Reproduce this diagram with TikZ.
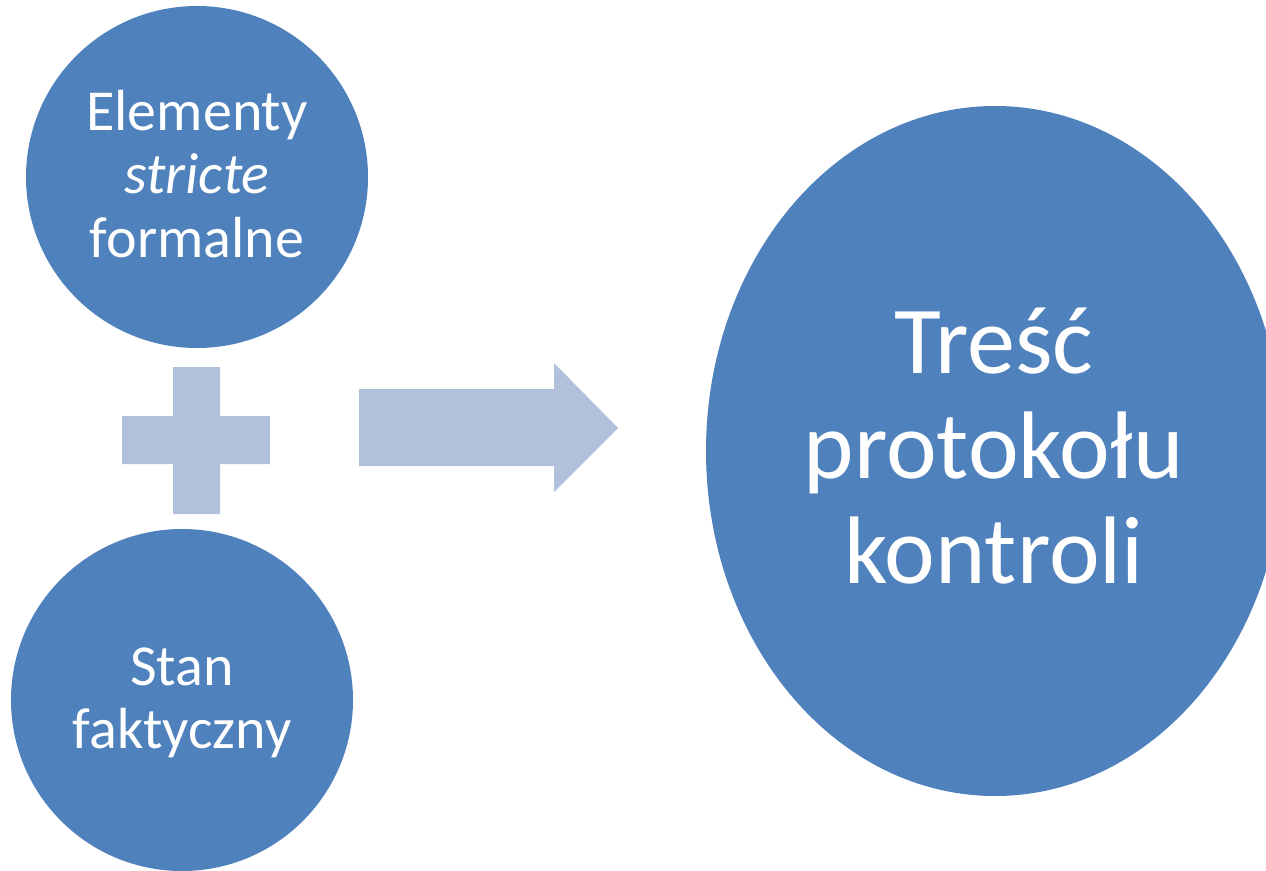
\documentclass[tikz,border=0pt]{standalone}
\usepackage{fontspec}
\setmainfont{Carlito}
\usetikzlibrary{shapes.geometric}
\definecolor{dblue}{RGB}{79,129,189}
\definecolor{lblue}{RGB}{178,193,219}
\tikzset{
  disc/.style={circle,fill=dblue,draw=none,minimum size=342pt,inner sep=0pt},
  oval/.style={ellipse,fill=dblue,draw=none,minimum width=578pt,minimum height=690pt,inner sep=0pt},
  small/.style={text=white,anchor=base,inner sep=0pt,font=\fontsize{58}{64}\selectfont},
  big/.style={text=white,anchor=base,inner sep=0pt,font=\fontsize{96}{106}\selectfont},
  lightshape/.style={fill=lblue,draw=none}
}
\begin{document}
\begin{tikzpicture}[x=1pt,y=-1pt]
\useasboundingbox (0,0) rectangle (1266,870);
\clip (0,0) rectangle (1266,870);
\fill[white] (0,0) rectangle (1266,870);
% circles
\node[disc] (c1) at (197,177) {};
\node[disc] (c2) at (182,700) {};
\node[oval] (e) at (995,451) {};
% plus sign
\fill[lightshape] (173,367) -- (220,367) -- (220,416) -- (270,416) -- (270,464) -- (220,464)
  -- (220,514) -- (173,514) -- (173,464) -- (122,464) -- (122,416) -- (173,416) -- cycle;
% block arrow
\fill[lightshape] (359,389) -- (554,389) -- (554,363) -- (618,428) -- (554,492) -- (554,466) -- (359,466) -- cycle;
% texts
\node[small] (t1) at (197,130) {Elementy};
\node[small] (t2) at (197,193) {\itshape stricte};
\node[small] (t3) at (197,257) {formalne};
\node[small] (s1) at (182,685) {Stan};
\node[small] (s2) at (182,748) {faktyczny};
\node[big] (b1) at (994,373) {Treść};
\node[big] (b2) at (994,478) {protokołu};
\node[big] (b3) at (994,583) {kontroli};
\end{tikzpicture}
\end{document}
